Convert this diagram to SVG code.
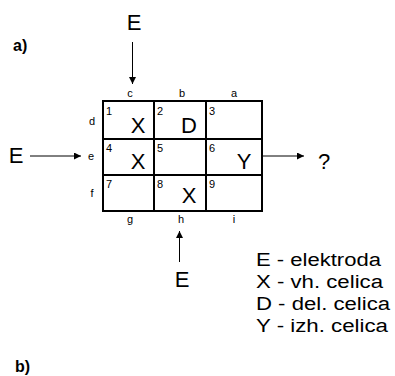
<svg xmlns="http://www.w3.org/2000/svg" width="395" height="376" viewBox="0 0 395 376">
<defs>
<marker id="ah" viewBox="0 0 10 10" refX="10" refY="5" markerWidth="8" markerHeight="7" markerUnits="userSpaceOnUse" orient="auto">
<path d="M0,0 L10,5 L0,10 Z" fill="#000"/>
</marker>
</defs>
<style>
text{font-family:"Liberation Sans",Arial,sans-serif;fill:#000}
.big{font-size:22px;text-anchor:middle}
.num{font-size:11px}
.lab{font-size:11px;text-anchor:middle}
.leg{font-size:18px}
.hd{font-size:16px;font-weight:bold}
.cell{fill:#fff;stroke:#000;stroke-width:2}
.conn{stroke:#000;stroke-width:1;fill:none;marker-end:url(#ah)}
</style>
<rect width="395" height="376" fill="#fff"/>
<text class="hd" x="13" y="51">a)</text>
<text class="hd" x="15" y="372">b)</text>
<g id="grid">
<rect class="cell" x="103" y="101" width="159" height="110"/>
<line x1="154" y1="101" x2="154" y2="211" stroke="#000" stroke-width="2"/>
<line x1="206" y1="101" x2="206" y2="211" stroke="#000" stroke-width="2"/>
<line x1="103" y1="139" x2="262" y2="139" stroke="#000" stroke-width="2"/>
<line x1="103" y1="175" x2="262" y2="175" stroke="#000" stroke-width="2"/>
</g>
<g id="cell1"><text class="num" x="106" y="115">1</text><text class="big" x="138" y="133">X</text></g>
<g id="cell2"><text class="num" x="157" y="115">2</text><text class="big" x="189" y="133">D</text></g>
<g id="cell3"><text class="num" x="209" y="115">3</text></g>
<g id="cell4"><text class="num" x="106" y="152">4</text><text class="big" x="138" y="169">X</text></g>
<g id="cell5"><text class="num" x="157" y="152">5</text></g>
<g id="cell6"><text class="num" x="209" y="152">6</text><text class="big" x="244" y="169">Y</text></g>
<g id="cell7"><text class="num" x="106" y="188">7</text></g>
<g id="cell8"><text class="num" x="157" y="188">8</text><text class="big" x="189" y="203">X</text></g>
<g id="cell9"><text class="num" x="209" y="188">9</text></g>
<g id="labels">
<text class="lab" x="130" y="97">c</text>
<text class="lab" x="182" y="97">b</text>
<text class="lab" x="234" y="97">a</text>
<text class="lab" x="92" y="125">d</text>
<text class="lab" x="91" y="160">e</text>
<text class="lab" x="92" y="197">f</text>
<text class="lab" x="130" y="223">g</text>
<text class="lab" x="181" y="223">h</text>
<text class="lab" x="234" y="223">i</text>
</g>
<g id="electrodes">
<text class="big" x="134" y="30">E</text>
<text class="big" x="16" y="163">E</text>
<text class="big" x="182" y="287">E</text>
<text class="big" x="324" y="169">?</text>
</g>
<g id="connectors">
<line class="conn" x1="132.5" y1="42" x2="132.5" y2="84"/>
<line class="conn" x1="30" y1="156" x2="81" y2="156"/>
<line class="conn" x1="262" y1="156" x2="304" y2="156"/>
<line class="conn" x1="179.5" y1="262" x2="179.5" y2="231"/>
</g>
<g id="legend">
<text class="leg" x="256" y="266" textLength="125" lengthAdjust="spacingAndGlyphs">E - elektroda</text>
<text class="leg" x="256" y="288" textLength="127" lengthAdjust="spacingAndGlyphs">X - vh. celica</text>
<text class="leg" x="256" y="310" textLength="134" lengthAdjust="spacingAndGlyphs">D - del. celica</text>
<text class="leg" x="256" y="332" textLength="132" lengthAdjust="spacingAndGlyphs">Y - izh. celica</text>
</g>
</svg>
